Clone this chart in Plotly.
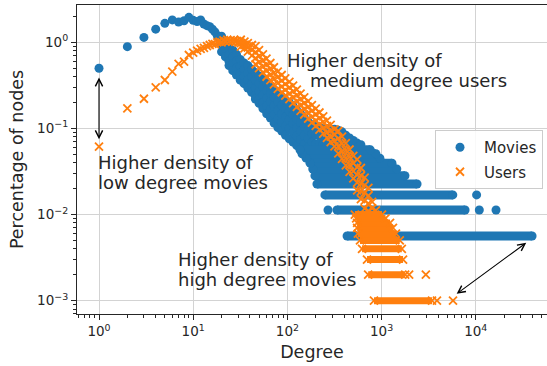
import numpy as np
import plotly.graph_objects as go

# ---------------- data ----------------
# Movies: low-degree points (one per degree)
movie_deg_low = [1, 2, 3, 4, 5, 6, 7, 8, 9, 10, 11, 12, 13, 14, 15, 16, 17, 18, 19]
movie_pct_low = [0.50, 0.89, 1.14, 1.42, 1.66, 1.82, 1.72, 1.78, 1.95, 1.80, 1.74, 1.82,
                 1.63, 1.56, 1.52, 1.42, 1.32, 1.20, 1.12]

# Movies: dense diagonal band, degree columns and the percentages seen in each column
movie_band_deg = [20, 22, 24, 26.3, 28.8, 31.6, 34.7, 38.0, 41.7, 45.7, 50.1, 55.0, 60.3,
                  66.1, 72.4, 79.4, 87.1, 95.5, 104.7, 114.8, 125.9, 138.0, 151.4, 166.0,
                  182.0, 199.5, 218.8, 239.9, 263.0, 288.4, 316.2, 346.7, 380.2, 416.9,
                  457.1, 501.2, 549.5, 602.6]
movie_band_pct = [
    [1.175, 0.955, 0.776], [1.0, 0.832, 0.676], [0.871, 0.724, 0.603, 0.537],
    [0.813, 0.676, 0.562, 0.468], [0.724, 0.603, 0.501, 0.417], [0.631, 0.525, 0.437, 0.363],
    [0.575, 0.479, 0.398, 0.331], [0.537, 0.437, 0.363, 0.295], [0.490, 0.398, 0.324, 0.263],
    [0.447, 0.363, 0.295, 0.240, 0.219], [0.407, 0.331, 0.269, 0.219, 0.195],
    [0.372, 0.302, 0.245, 0.200, 0.170], [0.339, 0.275, 0.224, 0.182, 0.148],
    [0.309, 0.251, 0.204, 0.166, 0.132], [0.282, 0.229, 0.182, 0.145, 0.115],
    [0.257, 0.204, 0.162, 0.129, 0.102], [0.234, 0.186, 0.148, 0.117, 0.0933],
    [0.214, 0.170, 0.135, 0.107, 0.0832], [0.200, 0.158, 0.126, 0.100, 0.0759],
    [0.182, 0.145, 0.115, 0.0912, 0.0692], [0.162, 0.129, 0.102, 0.0813, 0.0631],
    [0.148, 0.117, 0.0933, 0.0741, 0.0562], [0.132, 0.105, 0.0832, 0.0661, 0.0525],
    [0.120, 0.0955, 0.0759, 0.0603], [0.110, 0.0871, 0.0692, 0.0562],
    [0.105, 0.0832, 0.0661], [0.102, 0.0832, 0.0676], [0.100, 0.0813, 0.0661],
    [0.100, 0.0813, 0.0661], [0.0977, 0.0794, 0.0646], [0.0977, 0.0794, 0.0646],
    [0.0955, 0.0776, 0.0631], [0.0912, 0.0759, 0.0631], [0.0832, 0.0692, 0.0603],
    [0.0776, 0.0661], [0.0724, 0.0631], [0.0676, 0.0603], [0.0646],
]

# Movies: quantised rows (1..10 movies) as level, first degree, last degree
movie_row_pct = [0.00564, 0.0113, 0.0169, 0.0226, 0.0282, 0.0338, 0.0395, 0.0451, 0.0508, 0.0564]
movie_row_start = [430, 336, 250, 206, 196, 186, 174, 158, 143, 136]
movie_row_end = [39600, 7700, 5700, 2380, 1770, 1450, 1290, 960, 870, 760]
movie_iso_deg = [270, 10900, 16400, 10200]
movie_iso_pct = [0.0113, 0.0113, 0.0113, 0.0169]

# Users: low-degree points
user_deg_low = list(range(1, 32))
user_pct_low = [0.0614, 0.171, 0.221, 0.300, 0.365, 0.456, 0.560, 0.596, 0.712, 0.757,
                0.80, 0.84, 0.86, 0.90, 0.93, 0.96, 0.95, 1.00, 1.02, 1.00, 1.05, 1.02,
                1.07, 1.03, 1.06, 1.02, 1.06, 1.01, 1.04, 0.99, 1.01]

# Users: dense diagonal band
user_band_deg = [32, 35, 38, 42, 46, 50, 55, 60, 66, 72, 79, 87, 95, 105, 115, 126, 138, 151,
                 166, 182, 200, 219, 240, 263, 288, 316, 347, 380, 417, 457, 501, 550, 603,
                 661, 724, 794, 871]
user_band_pct = [
    [1.07, 0.98, 0.89], [1.02, 0.93, 0.85], [0.98, 0.87, 0.78], [0.93, 0.81, 0.70],
    [0.902, 0.767, 0.653, 0.556], [0.813, 0.692, 0.589, 0.501], [0.724, 0.617, 0.525, 0.447],
    [0.646, 0.550, 0.468, 0.398], [0.575, 0.495, 0.422, 0.363], [0.513, 0.442, 0.376, 0.324],
    [0.457, 0.394, 0.335, 0.288], [0.417, 0.359, 0.305, 0.263], [0.380, 0.327, 0.279, 0.240],
    [0.347, 0.299, 0.254, 0.219], [0.313, 0.269, 0.229, 0.197], [0.282, 0.243, 0.207, 0.178],
    [0.254, 0.219, 0.186, 0.160], [0.229, 0.197, 0.168, 0.145], [0.207, 0.178, 0.151, 0.130],
    [0.186, 0.160, 0.136, 0.117], [0.170, 0.146, 0.124, 0.107], [0.153, 0.132, 0.112, 0.0966],
    [0.138, 0.119, 0.101, 0.0871], [0.123, 0.106, 0.0902, 0.0776],
    [0.110, 0.0944, 0.0804, 0.0692], [0.0977, 0.0841, 0.0716, 0.0617],
    [0.0933, 0.0767, 0.0624, 0.0513], [0.0804, 0.0661, 0.0537, 0.0442],
    [0.0676, 0.0556, 0.0452, 0.0372], [0.0569, 0.0468, 0.0380, 0.0313],
    [0.0479, 0.0394, 0.0320, 0.0263], [0.0437, 0.0355, 0.0288, 0.0234, 0.0191],
    [0.0347, 0.0282, 0.0229, 0.0186, 0.0151], [0.0269, 0.0219, 0.0178, 0.0145, 0.0117],
    [0.0204, 0.0166, 0.0135, 0.0110], [0.0140, 0.0118], [0.0112],
]

# Users: quantised rows (1..10 users)
user_row_pct = [0.001, 0.002, 0.003, 0.004, 0.005, 0.006, 0.007, 0.008, 0.009, 0.010]
user_row_start = [830, 720, 700, 620, 590, 560, 550, 550, 537, 520]
user_row_end = [3430, 1780, 1690, 1640, 1560, 1420, 1320, 1230, 1100, 1010]
user_iso_deg = [1960, 2950, 3870, 5730]
user_iso_pct = [0.002, 0.002, 0.001, 0.001]

# Axis ticks
x_tick_vals = [1, 10, 100, 1000, 10000]
x_tick_text = ["10<sup>0</sup>", "10<sup>1</sup>", "10<sup>2</sup>", "10<sup>3</sup>", "10<sup>4</sup>"]
y_tick_vals = [0.001, 0.01, 0.1, 1]
y_tick_text = ["10<sup>\u22123</sup>", "10<sup>\u22122</sup>", "10<sup>\u22121</sup>", "10<sup>0</sup>"]

# Annotation arrows: (degree, pct) of both ends
arrow_low = [(1, 0.0748), (1, 0.406)]
arrow_high = [(6270, 0.00120), (35600, 0.00484)]

# ---------------- build ----------------
BLUE = "#1f77b4"
ORANGE = "#ff7f0e"
TXT = "#262626"
FONT = "DejaVu Sans"


def flatten(cols, vals):
    xs, ys = [], []
    for c, vs in zip(cols, vals):
        for v in vs:
            xs.append(c)
            ys.append(v)
    return xs, ys


def rows(levels, starts, ends):
    xs, ys = [], []
    for lv, s, e in zip(levels, starts, ends):
        xs += [s, e, None]
        ys += [lv, lv, None]
    return xs, ys


mbx, mby = flatten(movie_band_deg, movie_band_pct)
ubx, uby = flatten(user_band_deg, user_band_pct)
mrx, mry = rows(movie_row_pct, movie_row_start, movie_row_end)
urx, ury = rows(user_row_pct, user_row_start, user_row_end)

fig = go.Figure()

fig.add_trace(go.Scatter(
    x=movie_deg_low + mbx + movie_iso_deg, y=movie_pct_low + mby + movie_iso_pct,
    mode="markers", name="Movies", legendgroup="m",
    marker=dict(symbol="circle", size=9, color=BLUE, line=dict(width=0)),
))
fig.add_trace(go.Scatter(
    x=mrx, y=mry, mode="lines+markers", showlegend=False, legendgroup="m",
    line=dict(color=BLUE, width=9),
    marker=dict(symbol="circle", size=9, color=BLUE, line=dict(width=0)),
))
fig.add_trace(go.Scatter(
    x=user_deg_low + ubx + user_iso_deg, y=user_pct_low + uby + user_iso_pct,
    mode="markers", name="Users", legendgroup="u",
    marker=dict(symbol="x-thin", size=8, color=ORANGE, line=dict(width=1.8, color=ORANGE)),
))
fig.add_trace(go.Scatter(
    x=urx, y=ury, mode="lines+markers", showlegend=False, legendgroup="u",
    line=dict(color=ORANGE, width=7),
    marker=dict(symbol="x-thin", size=8, color=ORANGE, line=dict(width=1.8, color=ORANGE)),
))

# plot area: x 77..547 px, y 5..314 px
X0, X1, Y0, Y1 = 77, 547, 5, 314


def px(x):
    return (x - X0) / (X1 - X0)


def py(y):
    return (Y1 - y) / (Y1 - Y0)


texts = [
    ("Higher density of", 285, 60.7),
    ("medium degree users", 308, 81.0),
    ("Higher density of", 96, 162.3),
    ("low degree movies", 96, 182.3),
    ("Higher density of", 176, 259.0),
    ("high degree movies", 176, 279.0),
]
annotations = []
for t, x, y in texts:
    annotations.append(dict(text=t, x=px(x), y=py(y), xref="paper", yref="paper",
                            xanchor="left", yanchor="middle", showarrow=False,
                            font=dict(size=18, color=TXT, family=FONT)))

for (a, b) in (arrow_low, arrow_high):
    annotations.append(dict(
        x=np.log10(a[0]), y=np.log10(a[1]), ax=np.log10(b[0]), ay=np.log10(b[1]),
        xref="x", yref="y", axref="x", ayref="y", text="", showarrow=True,
        arrowhead=5, startarrowhead=5, arrowside="end+start", arrowsize=1.3,
        arrowwidth=1.1, arrowcolor="black", standoff=0, startstandoff=0,
    ))

minor_x = [k * 10.0 ** e for e in range(-1, 5) for k in range(2, 10)]
minor_y = [k * 10.0 ** e for e in range(-4, 1) for k in range(2, 10)]

axis_common = dict(
    type="log", showgrid=True, gridcolor="#d3d3d3", gridwidth=1, zeroline=False,
    showline=True, linecolor=TXT, linewidth=1.2, ticks="outside", ticklen=5,
    tickwidth=1.2, tickcolor=TXT, tickmode="array", automargin=False,
    tickfont=dict(size=13.5, color=TXT, family=FONT),
)

fig.update_layout(
    width=547, height=366,
    margin=dict(l=X0, r=547 - X1, t=Y0, b=366 - Y1),
    plot_bgcolor="white", paper_bgcolor="white",
    font=dict(family=FONT, color=TXT),
    xaxis=dict(**axis_common, range=[-0.2335, 4.756], mirror=True,
               tickvals=x_tick_vals, ticktext=x_tick_text,
               minor=dict(tickmode="array", tickvals=minor_x, ticks="outside", ticklen=3,
                          tickwidth=1, tickcolor=TXT, showgrid=False),
               title=dict(text="Degree", font=dict(size=17.5, color=TXT, family=FONT),
                          standoff=7)),
    yaxis=dict(**axis_common, range=[-3.155, 0.433],
               tickvals=y_tick_vals, ticktext=y_tick_text,
               minor=dict(tickmode="array", tickvals=minor_y, ticks="outside", ticklen=3,
                          tickwidth=1, tickcolor=TXT, showgrid=False),
               title=dict(text="Percentage of nodes",
                          font=dict(size=17.5, color=TXT, family=FONT), standoff=8)),
    legend=dict(x=px(435), y=py(130), xanchor="left", yanchor="top",
                bgcolor="rgba(255,255,255,0.85)", bordercolor="#cccccc", borderwidth=1,
                font=dict(size=15, color=TXT, family=FONT), tracegroupgap=2,
                itemwidth=38),
    annotations=annotations,
)

fig.write_html("out.html", config={"displayModeBar": False},
               post_script="document.body.style.margin='0';document.body.style.padding='0';")
